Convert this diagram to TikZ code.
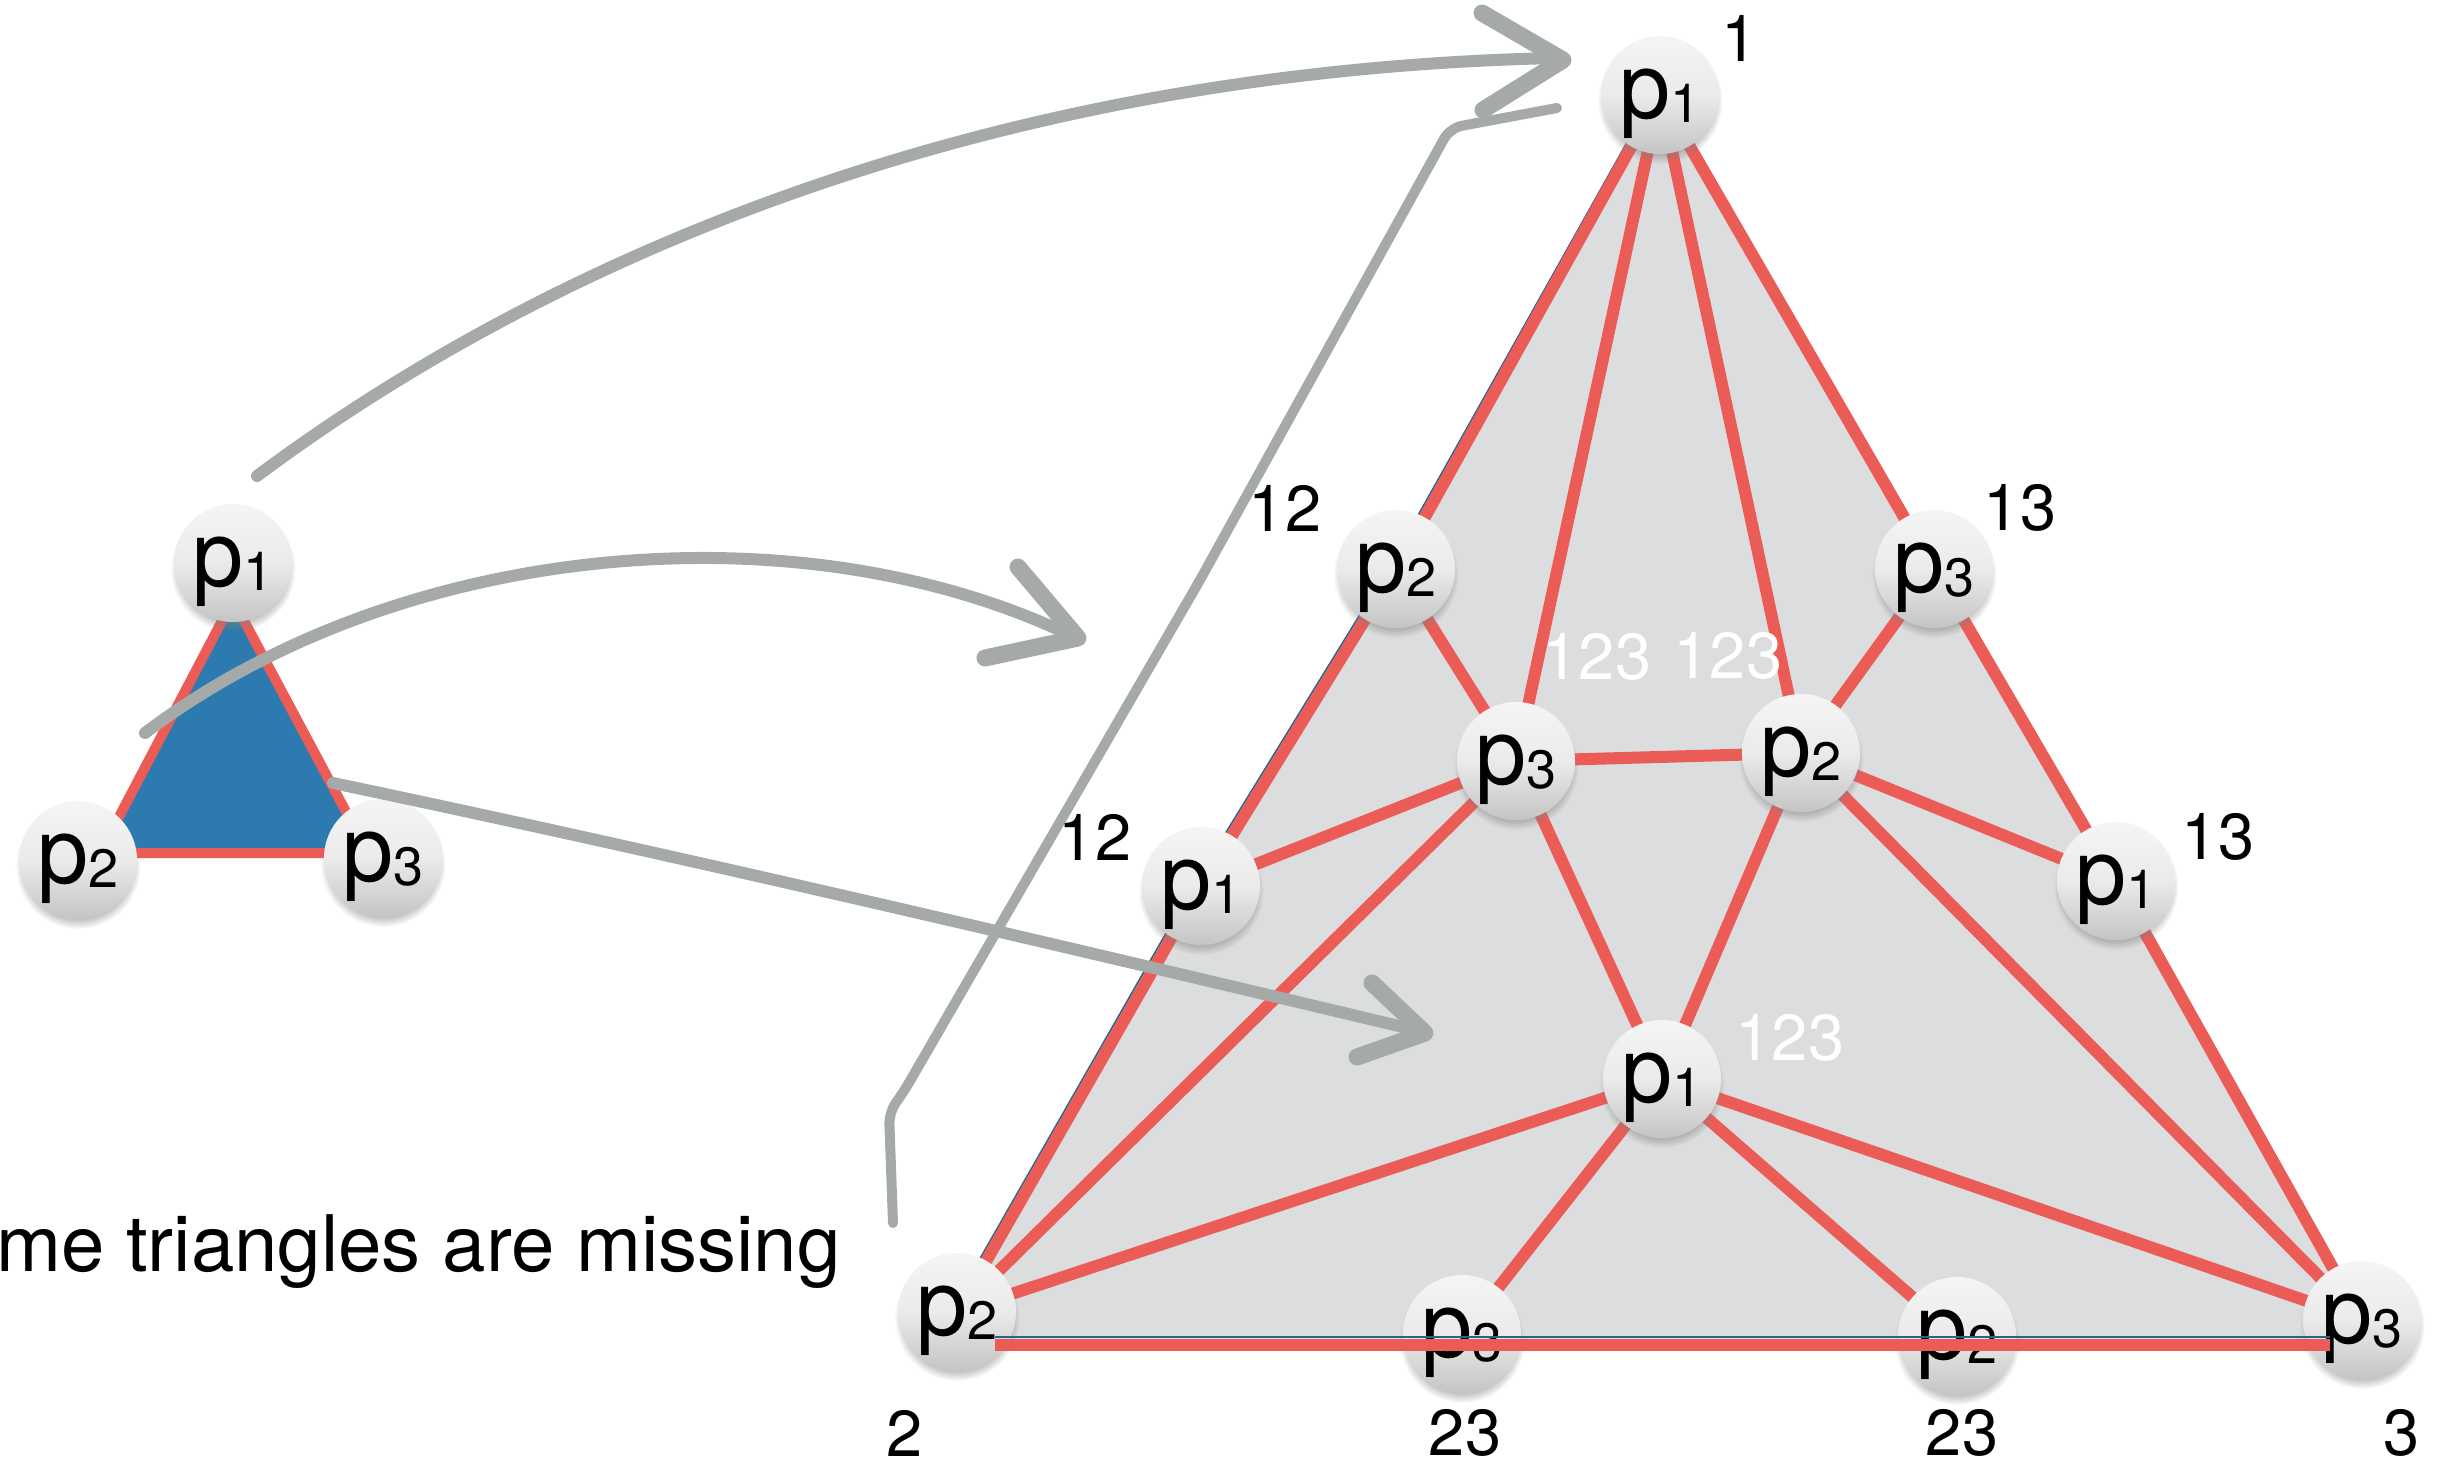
\documentclass[tikz,border=0pt]{standalone}
\usepackage{fontspec}
\setmainfont{TeX Gyre Heros}
\usetikzlibrary{shadows}
\definecolor{redl}{RGB}{236,92,87}
\definecolor{greyfill}{RGB}{220,221,223}
\definecolor{bluefill}{RGB}{44,122,176}
\definecolor{pencil}{RGB}{165,169,167}
\definecolor{edgeblue}{RGB}{40,100,140}
\pgfdeclarelayer{bg}
\pgfdeclarelayer{edges}
\pgfdeclarelayer{top}
\pgfsetlayers{bg,edges,main,top}
\newcommand{\pn}[1]{p\raisebox{-4pt}{\fontsize{54}{54}\selectfont #1}}
\tikzset{
  sphere/.style={circle, minimum size=118pt, inner sep=0pt, text height=50pt, text depth=4pt,
    font=\fontsize{92}{92}\selectfont,
    top color=white!96!black, bottom color=black!23, middle color=black!8,
    circular drop shadow={shadow xshift=0pt, shadow yshift=-6pt, shadow scale=1.06, opacity=0.45}},
  redline/.style={draw=redl, line width=12pt, line cap=round},
  pencilline/.style={draw=pencil, line width=12pt, line cap=round, line join=round},
  pencilhead/.style={draw=pencil, line width=17pt, line cap=round, line join=round},
  lbl/.style={font=\fontsize{65}{65}\selectfont, inner sep=0pt},
  wlbl/.style={lbl, text=white}
}
\begin{document}
\begin{tikzpicture}[x=1pt,y=-1pt]
\useasboundingbox (0,0) rectangle (2445,1465);

% big triangle nodes
\node[sphere] (A1) at (1660,95) {\pn{1}};
\node[sphere] (A2L) at (1396,569) {\pn{2}};
\node[sphere] (A3R) at (1934,569) {\pn{3}};
\node[sphere] (M3) at (1516,761) {\pn{3}};
\node[sphere] (M2) at (1801,753) {\pn{2}};
\node[sphere] (L1) at (1201,886) {\pn{1}};
\node[sphere] (R1) at (2116,881) {\pn{1}};
\node[sphere] (C1) at (1662,1079) {\pn{1}};
\node[sphere] (B2L) at (957,1312) {\pn{2}};
\node[sphere] (B3) at (1462,1334) {\pn{3}};
\node[sphere] (B2) at (1957,1336) {\pn{2}};
\node[sphere] (B3R) at (2362,1320) {\pn{3}};

% small triangle nodes
\node[sphere] (S1) at (233,563) {\pn{1}};
\node[sphere] (S2) at (78,860) {\pn{2}};
\node[sphere] (S3) at (383,858) {\pn{3}};

\begin{pgfonlayer}{bg}
  \fill[greyfill] (1656,94) -- (1389,569) -- (1194,886) -- (933,1340) -- (2380,1340) -- (2122,881) -- (1940,569) -- cycle;
  \draw[edgeblue, line width=1.6pt] (1653,96) -- (1388,569) -- (1193,886) -- (962,1290);
\end{pgfonlayer}

\begin{pgfonlayer}{edges}
  % outer edges
  \draw[redline] (A1.center) -- (A2L.center) -- (L1.center) -- (B2L.center);
  \draw[redline] (A1.center) -- (A3R.center) -- (R1.center) -- (B3R.center);
  % inner edges
  \draw[redline] (A1.center) -- (M3.center);
  \draw[redline] (A1.center) -- (M2.center);
  \draw[redline] (A2L.center) -- (M3.center);
  \draw[redline] (A3R.center) -- (M2.center);
  \draw[redline] (M3.center) -- (M2.center);
  \draw[redline] (L1.center) -- (M3.center);
  \draw[redline] (R1.center) -- (M2.center);
  \draw[redline] (M3.center) -- (C1.center);
  \draw[redline] (M2.center) -- (C1.center);
  \draw[redline] (B2L.center) -- (M3.center);
  \draw[redline] (B3R.center) -- (M2.center);
  \draw[redline] (B2L.center) -- (C1.center);
  \draw[redline] (B3R.center) -- (C1.center);
  \draw[redline] (C1.center) -- (B3.center);
  \draw[redline] (C1.center) -- (B2.center);
  % small triangle
  \filldraw[fill=bluefill, draw=redl, line width=10pt, line join=round]
    (233,600) -- (100,853) -- (368,853) -- cycle;
\end{pgfonlayer}

\begin{pgfonlayer}{top}
  % bottom edge drawn over the nodes
  \coordinate (bl) at (995,1345);
  \coordinate (br) at (2330,1345);
  \draw[edgeblue, line width=1.6pt] (995,1337) -- (2330,1337);
  \draw[draw=redl, line width=12pt] (bl) -- (br);

  % pencil arrows
  \coordinate (s1) at (257,476);
  \coordinate (t1) at (1563,60);
  \draw[pencilline] (s1) .. controls (560,250) and (1000,70) .. (1556,58);
  \draw[pencilhead] (1482,13) -- (t1) -- (1483,110);

  \coordinate (s2) at (145,733);
  \coordinate (t2) at (1078,638);
  \draw[pencilline] (s2) .. controls (400,540) and (800,505) .. (1072,636);
  \draw[pencilhead] (1018,567) -- (t2) -- (985,658);

  \coordinate (s3) at (333,783);
  \coordinate (t3) at (1425,1033);
  \draw[pencilline] (s3) .. controls (700,860) and (1100,955) .. (1420,1031);
  \draw[pencilhead] (1372,983) -- (t3) -- (1357,1057);

  \coordinate (s4) at (893,1223);
  \coordinate (e4) at (1557,108);
  \draw[pencilline, line width=10pt, rounded corners=12pt] (s4) -- (889,1112) -- (903,1093) -- (1200,580) -- (1450,128) -- (e4);

  % labels
  \node[lbl] (n1) at (1740,38) {1};
  \node[lbl] (n12a) at (1285,508) {12};
  \node[lbl] (n12b) at (1095,837) {12};
  \node[lbl] (n13a) at (2020,508) {13};
  \node[lbl] (n13b) at (2218,837) {13};
  \node[wlbl] (w1) at (1597,657) {123};
  \node[wlbl] (w2) at (1728,656) {123};
  \node[wlbl] (w3) at (1790,1038) {123};
  \node[lbl] (b1) at (905,1433) {2};
  \node[lbl] (b2) at (1465,1433) {23};
  \node[lbl] (b3) at (1962,1433) {23};
  \node[lbl] (b4) at (2402,1433) {3};
  \node[anchor=base west, inner sep=0pt, font=\fontsize{78}{78}\selectfont] (msg) at (-4,1271) {\llap{So}me triangles are missing};
\end{pgfonlayer}
\end{tikzpicture}
\end{document}
